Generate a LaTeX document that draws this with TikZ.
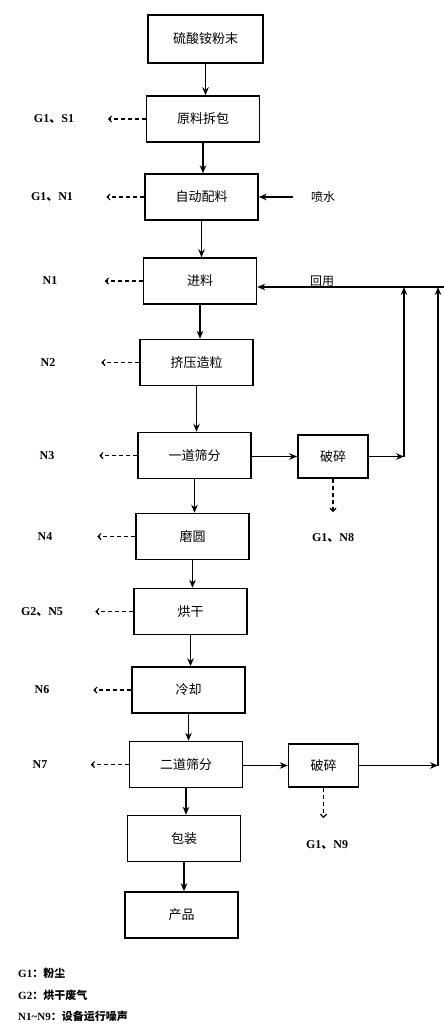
\documentclass[tikz,border=0pt]{standalone}
\usepackage{fontspec}
\setmainfont{Liberation Serif}
\newfontfamily\cjk{Noto Sans CJK SC}
\usetikzlibrary{arrows.meta}
\begin{document}
\begin{tikzpicture}[x=1pt,y=-1pt,
  box/.style={draw,line width=1.5pt,minimum width=113pt,minimum height=46pt,inner sep=0pt,font=\cjk\fontsize{13}{13}\selectfont},
  sbox/.style={box,minimum width=70pt,minimum height=43pt},
  lab/.style={inner sep=0pt,font=\bfseries\fontsize{12}{12}\selectfont},
  arr/.style={line width=1.5pt,-{Stealth[length=8pt,width=6.5pt]}},
  darr/.style={line width=1.2pt,dashed,dash pattern=on 4pt off 3pt,-{Straight Barb[length=3pt,width=6pt]}},
  ]
\useasboundingbox (0,0) rectangle (444,1030);
\node[box,minimum width=115pt,minimum height=48pt] (b1) at (205.5,39) {硫酸铵粉末};
\node[box] (b2) at (203,119) {原料拆包};
\node[box] (b3) at (201.5,197) {自动配料};
\node[box] (b4) at (200,281) {进料};
\node[box] (b5) at (196.5,362.5) {挤压造粒};
\node[box] (b6) at (194.5,455.5) {一道筛分};
\node[box] (b7) at (192.5,536.5) {磨圆};
\node[box] (b8) at (190.5,611.5) {烘干};
\node[box] (b9) at (188.5,690) {冷却};
\node[box] (b10) at (186,764.5) {二道筛分};
\node[box] (b11) at (184,838.5) {包装};
\node[box] (b12) at (181.5,915) {产品};
\node[sbox] (c1) at (333,456.5) {破碎};
\node[sbox] (c2) at (323.5,765.5) {破碎};
% main chain
\foreach \a/\b in {b1/b2,b2/b3,b3/b4,b4/b5,b5/b6,b6/b7,b7/b8,b8/b9,b9/b10,b10/b11,b11/b12}
  \draw[arr] (\a.south) -- (\a.south |- \b.north);
% left labels
\node[lab] (l2) at (54,119) {G1{\cjk 、}S1};
\node[lab] (l3) at (52,197) {G1{\cjk 、}N1};
\node[lab] (l4) at (50,281) {N1};
\node[lab] (l5) at (48,362.5) {N2};
\node[lab] (l6) at (47,455.5) {N3};
\node[lab] (l7) at (45,536.5) {N4};
\node[lab] (l8) at (42,611.5) {G2{\cjk 、}N5};
\node[lab] (l9) at (42,690) {N6};
\node[lab] (l10) at (40,764.5) {N7};
\foreach \n in {2,...,10}
  \draw[darr] (b\n.west) -- ++(-38,0);
% water
\node[inner sep=0pt,font=\cjk\fontsize{12}{12}\selectfont] (ps) at (323,197) {喷水};
\coordinate (pw) at (293,197);
\draw[arr] (pw) -- (b3.east);
% crushing branches
\draw[arr] (b6.east |- c1) -- (c1.west);
\draw[arr] (b10.east |- c2) -- (c2.west);
\coordinate (j1) at (404,287);
\coordinate (j2) at (438,287);
\coordinate (je) at (444,287);
\coordinate (k1) at (404,456.5);
\coordinate (k2) at (438,765.5);
\draw[arr] (c1.east) -- (k1);
\draw[arr] (k1) -- (j1);
\draw[arr] (c2.east) -- (k2);
\draw[arr] (k2) -- (j2);
\draw[arr] (je) -- (b4.east |- je);
\node[inner sep=0pt,font=\cjk\fontsize{12}{12}\selectfont] (hy) at (322,281) {回用};
% emissions of crushers
\coordinate (d1) at (333,512);
\coordinate (d2) at (323.5,818);
\draw[darr] (c1.south) -- (d1);
\draw[darr] (c2.south) -- (d2);
\node[lab] (g8) at (333,538) {G1{\cjk 、}N8};
\node[lab] (g9) at (327,845) {G1{\cjk 、}N9};
% legend
\node[lab,anchor=west,font=\bfseries\fontsize{11}{11}\selectfont] (lg1) at (18,973) {G1{\cjk ：粉尘}};
\node[lab,anchor=west,font=\bfseries\fontsize{11}{11}\selectfont] (lg2) at (18,995) {G2{\cjk ：烘干废气}};
\node[lab,anchor=west,font=\bfseries\fontsize{11}{11}\selectfont] (lg3) at (18,1016) {N1\textasciitilde N9{\cjk ：设备运行噪声}};
\end{tikzpicture}
\end{document}
